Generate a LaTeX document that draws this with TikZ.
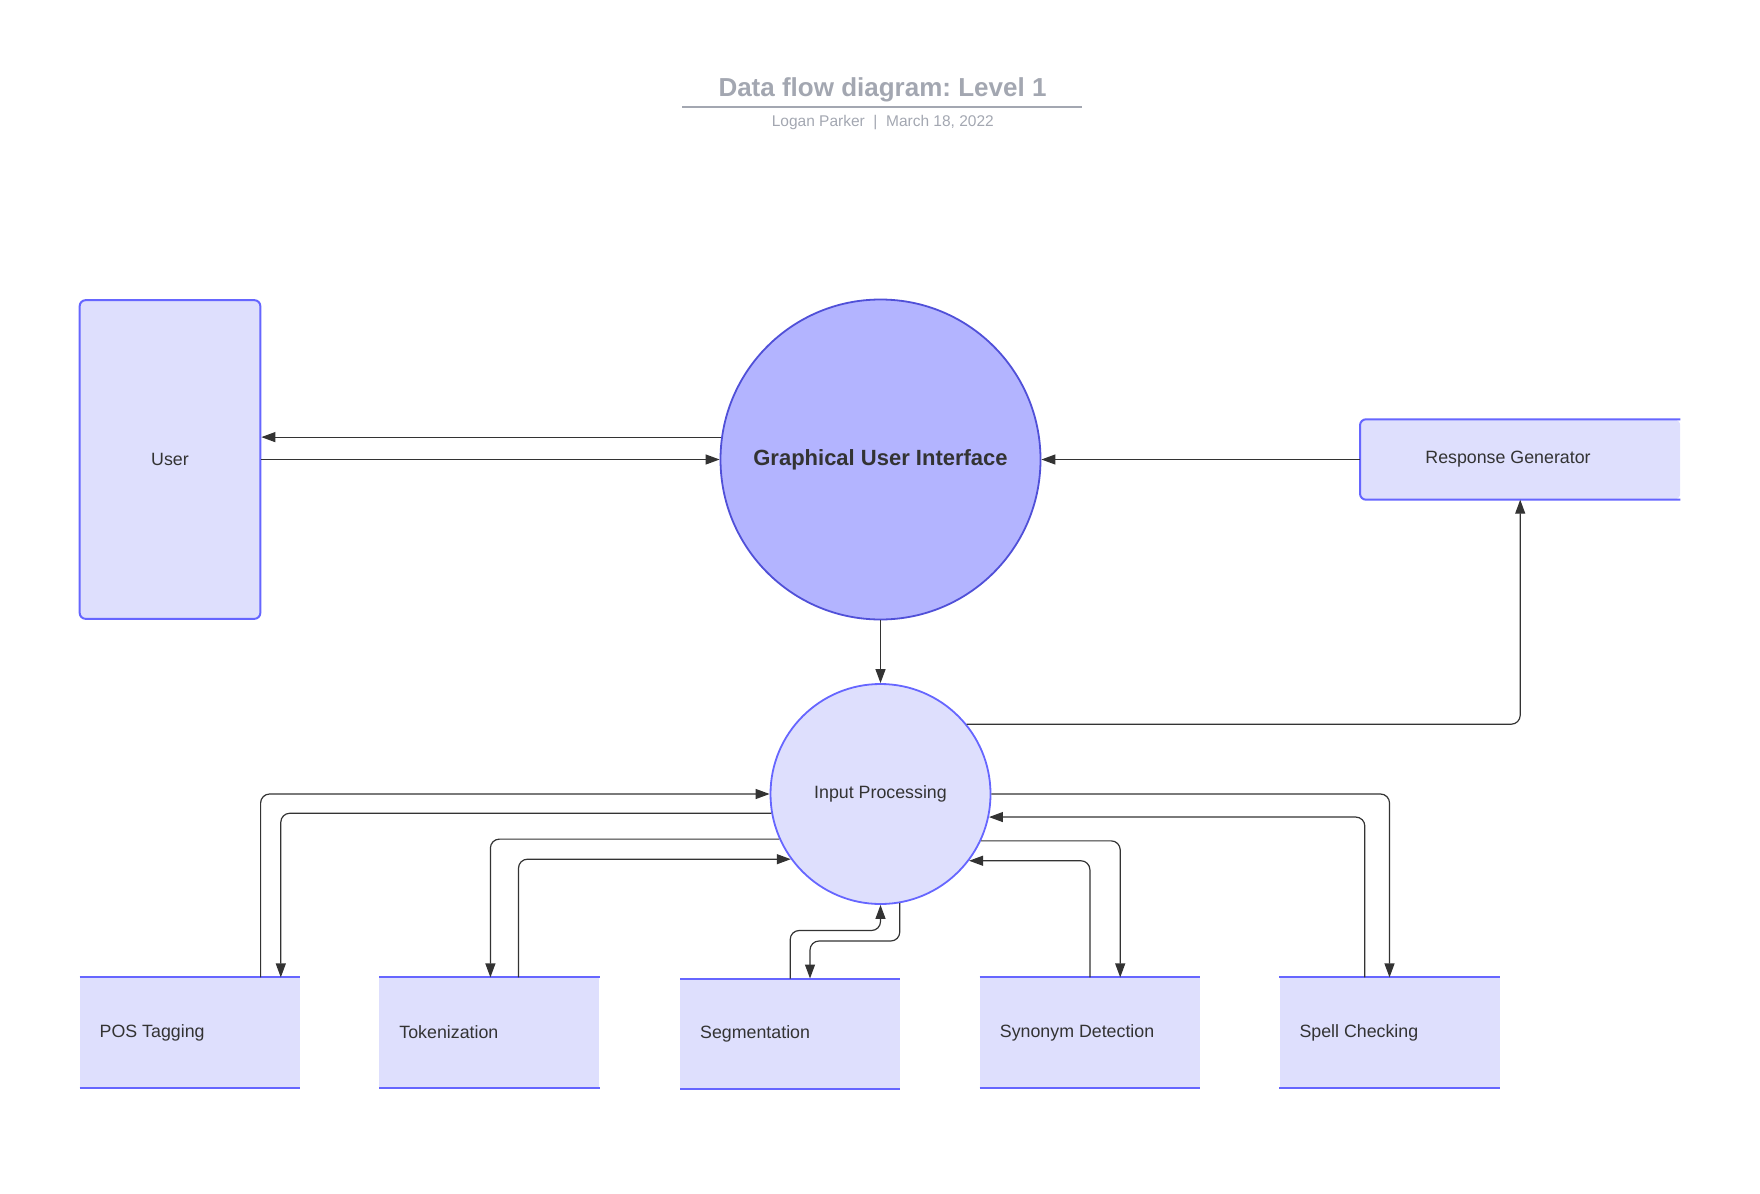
\documentclass[tikz,border=0pt]{standalone}
\usepackage{fontspec}
\setmainfont{Liberation Sans}
\usetikzlibrary{arrows.meta}
\frenchspacing
\definecolor{lightfill}{RGB}{222,223,253}
\definecolor{boxborder}{RGB}{102,102,255}
\definecolor{guifill}{RGB}{179,180,255}
\definecolor{guiborder}{RGB}{80,80,216}
\definecolor{txtcol}{RGB}{51,51,51}
\definecolor{titlegray}{RGB}{163,167,177}
\definecolor{linecol}{RGB}{51,51,51}
\begin{document}
\begin{tikzpicture}[x=1pt,y=-1pt,
  flowline/.style={draw=linecol, line width=1.2pt, rounded corners=9pt, -{Triangle[length=14pt,width=10pt]}},
  lbl/.style={text=txtcol, font=\fontsize{17.8}{20}\selectfont, inner sep=0pt},
  bottombox/.style={fill=lightfill, minimum width=220pt, minimum height=110pt, inner sep=0pt},
  edgeline/.style={draw=boxborder, line width=2pt}
]
\useasboundingbox (0,0) rectangle (1760,1193);

% title
\node[anchor=base, text=titlegray, font=\fontsize{26}{30}\selectfont\bfseries, inner sep=0pt] (title) at (882.5,96.7) {Data flow diagram: Level 1};
\coordinate (tl) at (682,106.7);
\coordinate (tr) at (1082,106.7);
\draw[titlegray, line width=2pt] (tl) -- (tr);
\node[anchor=base, text=titlegray, font=\fontsize{15.5}{18}\selectfont, inner sep=0pt] (subtitle) at (882.8,127) {Logan Parker ~|~ March 18, 2022};

% main nodes
\node[lbl, fill=lightfill, draw=boxborder, line width=2pt, rounded corners=6pt, minimum width=180.7pt, minimum height=318.7pt] (user) at (170,459.5) {User};
\node[circle, fill=guifill, draw=guiborder, line width=1.8pt, minimum size=320pt, inner sep=0pt, text=txtcol, font=\fontsize{22}{26}\selectfont\bfseries] (gui) at (880.5,459.5) {Graphical User Interface};
\node[lbl, circle, fill=lightfill, draw=boxborder, line width=1.8pt, minimum size=220pt] (ip) at (880.5,794) {Input Processing};

\node[fill=lightfill, rounded corners=6pt, minimum width=320pt, minimum height=80pt, inner sep=0pt] (rg) at (1520.2,459.5) {};
\draw[edgeline, rounded corners=6pt] (rg.north east) -- (rg.north west) -- (rg.south west) -- (rg.south east);
\node[lbl] (rgt) at (1508,459) {Response Generator};

% bottom boxes
\node[bottombox] (pos) at (189.7,1032.6) {};
\node[bottombox] (tok) at (489.4,1032.6) {};
\node[bottombox] (seg) at (790.2,1033.7) {};
\node[bottombox] (syn) at (1089.9,1032.6) {};
\node[bottombox] (spell) at (1389.5,1032.6) {};
\foreach \b in {pos,tok,seg,syn,spell}{
  \draw[edgeline] (\b.north west) -- (\b.north east);
  \draw[edgeline] (\b.south west) -- (\b.south east);
}
\node[lbl, anchor=west] (post) at ([xshift=20pt]pos.west) {POS Tagging};
\node[lbl, anchor=west] (tokt) at ([xshift=20pt]tok.west) {Tokenization};
\node[lbl, anchor=west] (segt) at ([xshift=20pt]seg.west) {Segmentation};
\node[lbl, anchor=west] (synt) at ([xshift=20pt]syn.west) {Synonym Detection};
\node[lbl, anchor=west] (spellt) at ([xshift=20pt]spell.west) {Spell Checking};

% connectors: GUI / User / RG
\draw[flowline] (gui.172.35) -- (gui.172.35 -| user.east);
\draw[flowline] (gui.west -| user.east) -- (gui.west);
\draw[flowline] (rg.west) -- (gui.east);
\draw[flowline] (gui.south) -- (ip.north);
\draw[flowline] (ip.39.5) -- (ip.39.5 -| rg.south) -- (rg.south);

% POS
\draw[flowline] ([xshift=-39.3pt]pos.north east) -- ([xshift=-39.3pt]pos.north east |- ip.west) -- (ip.west);
\draw[flowline] (ip.190.95) -- ([xshift=-19.1pt]pos.north east |- ip.190.95) -- ([xshift=-19.1pt]pos.north east);
% Tokenization
\draw[flowline] (ip.204.5) -- ([xshift=1pt]tok.north |- ip.204.5) -- ([xshift=1pt]tok.north);
\draw[flowline] ([xshift=29.1pt]tok.north) -- ([xshift=29.1pt]tok.north |- ip.216.7) -- (ip.216.7);
% Segmentation
\coordinate (segup) at (0,930.5);
\coordinate (segdown) at (0,941);
\draw[flowline] (seg.north) -- (seg.north |- segup) -- (ip.south |- segup) -- (ip.south);
\draw[flowline] (ip.280.7) -- (ip.280.7 |- segdown) -- ([xshift=19.8pt]seg.north |- segdown) -- ([xshift=19.8pt]seg.north);
% Synonym
\draw[flowline] (ip.335.5) -- ([xshift=30.3pt]syn.north |- ip.335.5) -- ([xshift=30.3pt]syn.north);
\draw[flowline] (syn.north) -- (syn.north |- ip.323.3) -- (ip.323.3);
% Spell
\draw[flowline] (ip.east) -- (spell.north |- ip.east) -- (spell.north);
\draw[flowline] ([xshift=-24.7pt]spell.north) -- ([xshift=-24.7pt]spell.north |- ip.348.5) -- (ip.348.5);
\end{tikzpicture}
\end{document}
